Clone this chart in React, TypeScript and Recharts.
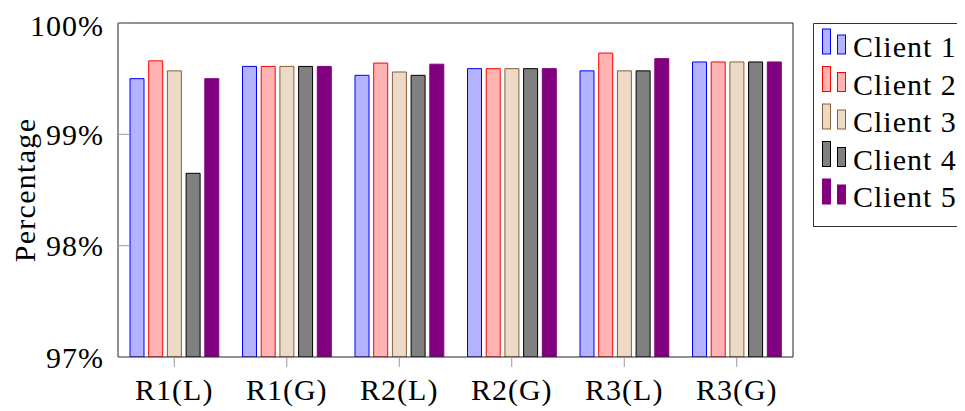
import { BarChart, Bar, XAxis, YAxis, Legend } from "recharts";

const categories = ["R1(L)", "R1(G)", "R2(L)", "R2(G)", "R3(L)", "R3(G)"];
const client1 = [99.5, 99.61, 99.53, 99.59, 99.57, 99.65];
const client2 = [99.66, 99.61, 99.64, 99.59, 99.73, 99.65];
const client3 = [99.57, 99.61, 99.56, 99.59, 99.57, 99.65];
const client4 = [98.65, 99.61, 99.53, 99.59, 99.57, 99.65];
const client5 = [99.5, 99.61, 99.63, 99.59, 99.68, 99.65];
const yTicks = [97, 98, 99, 100];

const seriesNames = ["Client 1", "Client 2", "Client 3", "Client 4", "Client 5"];
const seriesValues = [client1, client2, client3, client4, client5];
const fills = ["#b3b3ff", "#ffb3b3", "#ecd9c6", "#808080", "#800080"];
const strokes = ["#0000ff", "#ff0000", "#86603a", "#000000", "#800080"];

const data = categories.map((name, i) => {
  const row: Record<string, string | number> = { name };
  seriesNames.forEach((s, k) => {
    row[s] = seriesValues[k][i];
  });
  return row;
});

const FONT = "'Liberation Serif', 'DejaVu Serif', serif";
const tickStyle = { fill: "#000", fontSize: 30, fontFamily: FONT, letterSpacing: 1 };

const renderLegend = (props: any) => {
  const payload = props.payload || [];
  return (
    <svg width={152} height={204} style={{ display: "block" }}>
      <path d="M0.5,203.5 V0.5 H152" fill="none" stroke="#333" strokeWidth={1} />
      <line x1={0} y1={203.5} x2={152} y2={203.5} stroke="#333" />
      {payload.map((entry: any, i: number) => {
        const cy = 24 + i * 37.5;
        const k = seriesNames.indexOf(entry.value);
        return (
          <g key={entry.value}>
            <rect x={9.5} y={cy - 18} width={8} height={25} fill={fills[k]} stroke={strokes[k]} />
            <rect x={24.5} y={cy - 12} width={8} height={19} fill={fills[k]} stroke={strokes[k]} />
            <text x={40} y={cy + 10} fontFamily={FONT} fontSize={30} letterSpacing={1} fill="#000">
              {entry.value}
            </text>
          </g>
        );
      })}
    </svg>
  );
};

const App = () => {
  return (
    <div style={{ fontFamily: FONT }}>
      <BarChart
        width={957}
        height={403}
        data={data}
        margin={{ top: 0, right: 171, bottom: 0, left: 0 }}
        barSize={14}
        barGap={4.7}
      >
        <XAxis
          dataKey="name"
          height={54}
          tick={tickStyle}
          tickSize={10}
          tickMargin={12}
          tickLine={{ stroke: "#999" }}
          axisLine={{ stroke: "#222" }}
          interval={0}
        />
        <XAxis
          xAxisId="top"
          dataKey="name"
          orientation="top"
          height={15}
          tick={false}
          tickSize={11}
          tickLine={{ stroke: "#999" }}
          axisLine={{ stroke: "#222" }}
          interval={0}
        />
        <YAxis
          width={110}
          domain={[97, 100]}
          ticks={yTicks}
          allowDataOverflow
          tick={tickStyle}
          tickSize={-12}
          tickMargin={26}
          tickLine={{ stroke: "#999" }}
          axisLine={{ stroke: "#222" }}
          tickFormatter={(v) => `${v}%`}
          label={{
            content: (p: any) => {
              const vb = p.viewBox || { x: 0, y: 15, height: 334 };
              const cx = 16;
              const cy = vb.y + vb.height / 2;
              return (
                <text
                  x={cx}
                  y={cy}
                  transform={`rotate(-90 ${cx} ${cy})`}
                  textAnchor="middle"
                  dominantBaseline="central"
                  fontFamily={FONT}
                  fontSize={30}
                  letterSpacing={1.3}
                  fill="#000"
                >
                  Percentage
                </text>
              );
            },
          }}
        />
        <YAxis
          yAxisId="right"
          orientation="right"
          width={1}
          domain={[97, 100]}
          ticks={yTicks}
          allowDataOverflow
          tick={false}
          tickSize={-11}
          tickLine={{ stroke: "#999" }}
          axisLine={{ stroke: "#222" }}
        />
        <Legend
          layout="vertical"
          align="center"
          verticalAlign="middle"
          content={renderLegend}
          wrapperStyle={{ top: 15, left: 805, width: 152, height: 204 }}
        />
        {seriesNames.map((s, k) => (
          <Bar
            key={s}
            dataKey={s}
            fill={fills[k]}
            stroke={strokes[k]}
            strokeWidth={1}
            isAnimationActive={false}
          />
        ))}
      </BarChart>
    </div>
  );
};

export default App;
